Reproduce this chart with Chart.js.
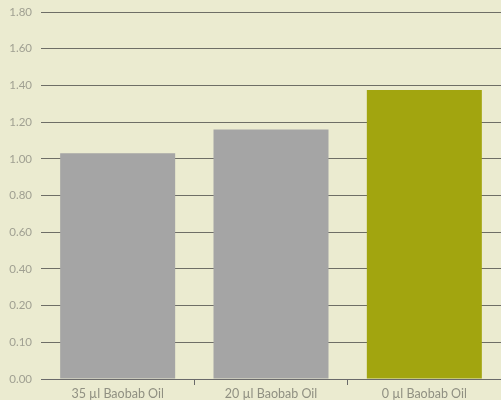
<!DOCTYPE html>
<html lang="en">
<head>
<meta charset="UTF-8" />
<title>Baobab Oil</title>
<script src="https://cdn.jsdelivr.net/npm/chart.js"></script>
<style>
  html, body { margin: 0; padding: 0; background: #ebebd0; overflow: hidden; }
  .container { width: 501px; height: 400px; }
</style>
</head>
<body>
<div class="container"><canvas id="grafico"></canvas></div>
<script>
  const categories = ['35 µl Baobab Oil', '20 µl Baobab Oil', '0 µl Baobab Oil'];
  const values = [1.03, 1.16, 1.375];
  const barColors = ['#a5a5a5', '#a5a5a5', '#a2a50f'];
  // the axis puts its ticks at equal steps although the values are not
  const tickValues = [0, 0.1, 0.2, 0.4, 0.6, 0.8, 1.0, 1.2, 1.4, 1.6, 1.8];
  const tickLabels = ['0.00', '0.10', '0.20', '0.40', '0.60', '0.80', '1.00', '1.20', '1.40', '1.60', '1.80'];

  class StepScale extends Chart.LinearScale {
    determineDataLimits() { this.min = tickValues[0]; this.max = tickValues[tickValues.length - 1]; }
    buildTicks() { return tickValues.map(v => ({ value: v })); }
    toDecimal(value) {
      const n = tickValues.length - 1;
      if (value <= tickValues[0]) return 0;
      for (let i = 1; i <= n; i++) {
        if (value <= tickValues[i]) {
          const f = (value - tickValues[i - 1]) / (tickValues[i] - tickValues[i - 1]);
          return (i - 1 + f) / n;
        }
      }
      return 1;
    }
    getPixelForValue(value) { return this.getPixelForDecimal(this.toDecimal(value)); }
    getValueForPixel(pixel) {
      const d = this.getDecimalForPixel(pixel) * (tickValues.length - 1);
      const i = Math.max(0, Math.min(tickValues.length - 2, Math.floor(d)));
      return tickValues[i] + (d - i) * (tickValues[i + 1] - tickValues[i]);
    }
  }
  StepScale.id = 'step';
  StepScale.defaults = {};
  Chart.register(StepScale);

  const ctx = document.getElementById('grafico').getContext('2d');
  new Chart(ctx, {
    type: 'bar',
    data: {
      labels: categories,
      datasets: [{
        data: values,
        backgroundColor: barColors,
        barPercentage: 0.75,
        categoryPercentage: 1
      }]
    },
    options: {
      responsive: true,
      maintainAspectRatio: false,
      animation: false,
      layout: { padding: { top: 12, left: 0, right: 0, bottom: 0 } },
      plugins: { legend: { display: false }, tooltip: { enabled: false } },
      scales: {
        x: {
          grid: {
            drawOnChartArea: false,
            drawTicks: true,
            tickLength: 6,
            color: c => (c.index === 0 || c.index === categories.length) ? 'rgba(0,0,0,0)' : '#6a6a6a'
          },
          border: { display: true, color: '#6a6a6a', width: 1 },
          ticks: { color: '#909082', font: { family: 'Lato', size: 12.5 }, padding: 1 },
          afterFit: s => { s.height = 21; s.paddingLeft = 0; s.paddingRight = 0; }
        },
        y: {
          type: 'step',
          min: 0,
          max: 1.8,
          border: { display: false },
          grid: { color: '#6e6e66', lineWidth: 1, drawTicks: false },
          ticks: {
            color: '#a0a092',
            font: { family: 'Lato', size: 11.5 },
            padding: 9,
            callback: (v, i) => tickLabels[i]
          },
          afterFit: s => { s.width = 41; s.paddingTop = 0; s.paddingBottom = 0; }
        }
      }
    }
  });
</script>
</body>
</html>
